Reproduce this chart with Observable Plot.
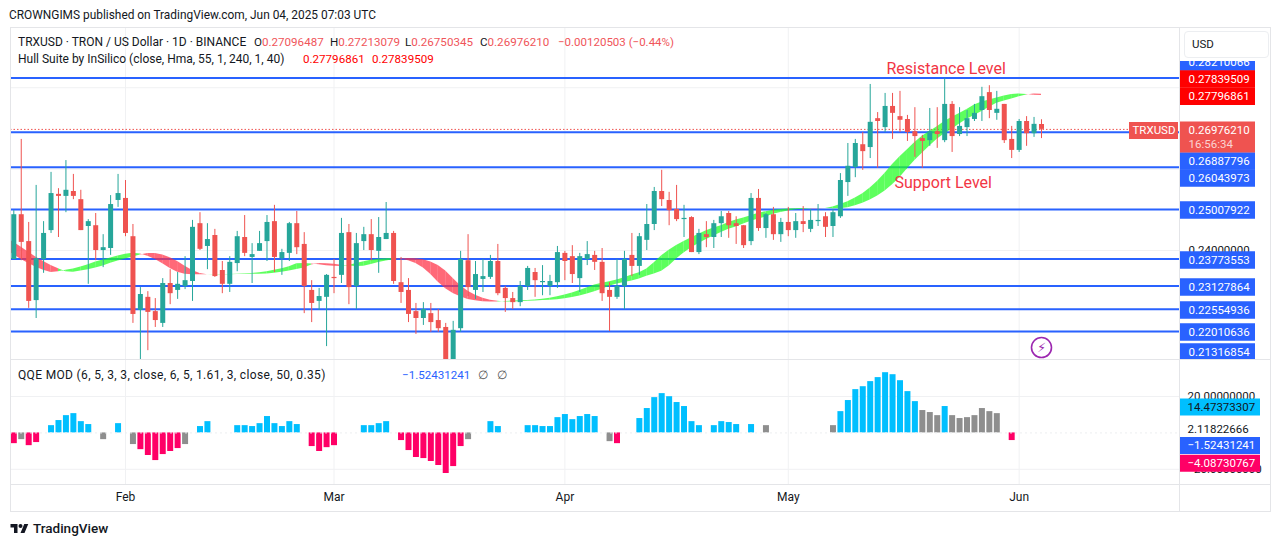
<!DOCTYPE html>
<html><head><meta charset="utf-8">
<script src="https://cdn.jsdelivr.net/npm/d3@7"></script>
<script src="https://cdn.jsdelivr.net/npm/@observablehq/plot@0.6"></script>
<style>
html,body{margin:0;padding:0;background:#fff;width:1281px;height:546px;overflow:hidden}
#page{position:relative;width:1281px;height:546px;font-family:Roboto,sans-serif;color:#131722;font-size:12px}
#page svg{position:absolute;left:0;background:transparent;max-width:none}
.t{position:absolute;white-space:nowrap;line-height:14px}
.r{color:#f0555a}
.line{position:absolute;background:#e4e5e8}
</style></head><body><div id="page"></div>
<script>
const barOpen=[.2378,.2488,.2422,.2277,.2378,.2449,.2538,.2533,.2545,.2525,.2459,.2461,.2400,.2405,.2523,.2528,.2434,.2253,.2285,.2250,.2221,.2319,.2302,.2312,.2324,.2466,.2410,.2437,.2351,.2317,.2368,.2432,.2383,.2398,.2422,.2471,.2380,.2393,.2466,.2415,.2302,.2275,.2285,.2334,.2339,.2444,.2312,.2422,.2439,.2398,.2427,.2442,.2321,.2302,.2250,.2233,.2245,.2228,.2211,.2125,.2208,.2375,.2302,.2329,.2334,.2373,.2307,.2282,.2272,.2312,.2346,.2321,.2312,.2321,.2393,.2385,.2331,.2378,.2388,.2371,.2302,.2285,.2312,.2388,.2361,.2425,.2464,.2545,.2523,.2501,.2476,.2481,.2395,.2439,.2432,.2466,.2491,.2466,.2461,.2422,.2528,.2454,.2488,.2439,.2469,.2449,.2471,.2452,.2471,.2483,.2459,.2483,.2567,.2604,.2660,.2653,.2724,.2702,.2754,.2729,.2722,.2692,.2675,.2670,.2692,.2670,.2759,.2685,.2702,.2722,.2744,.2788,.2737,.2759,.2673,.2646,.2717,.2687,.27096487];
const barClose=[.2488,.2420,.2275,.2380,.2442,.2540,.2533,.2548,.2533,.2449,.2471,.2400,.2407,.2513,.2540,.2442,.2243,.2292,.2248,.2228,.2319,.2294,.2317,.2326,.2457,.2403,.2427,.2336,.2317,.2371,.2434,.2393,.2390,.2417,.2469,.2383,.2395,.2466,.2407,.2312,.2270,.2287,.2339,.2331,.2442,.2309,.2417,.2439,.2400,.2432,.2442,.2324,.2297,.2243,.2233,.2255,.2223,.2208,.2118,.2204,.2378,.2309,.2341,.2336,.2373,.2294,.2282,.2272,.2312,.2356,.2326,.2324,.2324,.2395,.2373,.2341,.2385,.2390,.2371,.2294,.2285,.2312,.2378,.2361,.2434,.2464,.2545,.2525,.2498,.2476,.2479,.2395,.2442,.2432,.2466,.2483,.2461,.2459,.2412,.2528,.2454,.2488,.2439,.2469,.2449,.2471,.2464,.2474,.2474,.2457,.2493,.2572,.2607,.2663,.2643,.2715,.2717,.2754,.2737,.2720,.2690,.2680,.2668,.2692,.2685,.2759,.2680,.2705,.2724,.2737,.2778,.2744,.2747,.2670,.2646,.2717,.2687,.2710,.26976210];
const barHigh=[.2498,.2673,.2469,.2560,.2471,.2592,.2552,.2621,.2587,.2548,.2476,.2491,.2439,.2535,.2587,.2572,.2464,.2309,.2299,.2282,.2331,.2353,.2346,.2385,.2474,.2493,.2466,.2452,.2373,.2385,.2447,.2486,.2417,.2447,.2486,.2511,.2403,.2469,.2496,.2444,.2326,.2307,.2341,.2378,.2479,.2464,.2442,.2457,.2476,.2481,.2518,.2447,.2383,.2331,.2270,.2272,.2270,.2255,.2221,.2226,.2398,.2439,.2373,.2378,.2388,.2415,.2312,.2297,.2324,.2361,.2356,.2363,.2339,.2410,.2398,.2412,.2393,.2422,.2398,.2405,.2321,.2378,.2398,.2442,.2442,.2513,.2555,.2597,.2543,.2560,.2511,.2483,.2452,.2471,.2474,.2496,.2496,.2483,.2461,.2540,.2550,.2491,.2506,.2479,.2506,.2491,.2508,.2501,.2513,.2493,.2501,.2589,.2663,.2673,.2690,.2808,.2739,.2786,.2786,.2791,.2732,.2751,.2683,.2749,.2751,.2823,.2766,.2751,.2744,.2759,.2801,.2805,.2791,.2759,.2705,.2722,.2729,.2727,.27213079];
const barLow=[.2378,.2375,.2258,.2233,.2344,.2442,.2432,.2493,.2525,.2449,.2317,.2375,.2358,.2388,.2506,.2434,.2221,.2132,.2154,.2211,.2211,.2267,.2280,.2304,.2275,.2400,.2353,.2334,.2294,.2297,.2348,.2385,.2319,.2398,.2373,.2346,.2339,.2373,.2390,.2245,.2223,.2253,.2164,.2294,.2319,.2267,.2255,.2400,.2375,.2344,.2427,.2317,.2270,.2223,.2194,.2216,.2199,.2199,.2105,.2110,.2199,.2287,.2280,.2297,.2329,.2289,.2248,.2255,.2262,.2302,.2285,.2289,.2289,.2307,.2326,.2319,.2297,.2363,.2351,.2275,.2201,.2280,.2255,.2336,.2339,.2400,.2449,.2508,.2461,.2471,.2432,.2395,.2390,.2407,.2405,.2432,.2430,.2415,.2405,.2412,.2447,.2430,.2425,.2420,.2434,.2430,.2444,.2444,.2459,.2432,.2432,.2479,.2533,.2579,.2597,.2626,.2602,.2690,.2673,.2690,.2668,.2629,.2602,.2656,.2651,.2665,.2641,.2680,.2680,.2717,.2717,.2724,.2720,.2663,.2626,.2641,.2656,.2678,.26750345];
// Hull ribbon centre, one reading per bar, from two bars before the first bar to one bar after the last
const hullMid=[.24295,.24173,.24050,.23927,.23804,.23706,.23607,.23534,.23460,.23472,.23509,.23534,.23583,.23632,.23706,.23755,.23804,.23853,.23902,.23939,.23927,.23878,.23804,.23706,.23583,.23484,.23423,.23403,.23406,.23407,.23408,.23411,.23413,.23416,.23421,.23428,.23448,.23472,.23509,.23541,.23583,.23669,.23688,.23674,.23656,.23632,.23620,.23607,.23620,.23669,.23718,.23755,.23779,.23797,.23804,.23794,.23767,.23706,.23607,.23460,.23263,.23092,.22969,.22882,.22809,.22772,.22748,.22735,.22735,.22748,.22755,.22765,.22772,.22784,.22797,.22821,.22851,.22895,.22944,.23006,.23067,.23140,.23190,.23226,.23263,.23312,.23386,.23435,.23509,.23656,.23841,.23976,.24099,.24197,.24295,.24381,.24467,.24541,.24590,.24676,.24738,.24787,.24836,.24910,.24946,.24983,.25008,.25020,.25028,.25032,.25037,.25027,.25027,.25057,.25118,.25180,.25266,.25364,.25499,.25659,.25843,.26064,.26261,.26433,.26617,.26777,.26900,.27010,.27145,.27256,.27342,.27440,.27551,.27637,.27686,.27735,.27789,.27828,.27851,.27838,.27821,.27809];
// QQE histogram, one per bar; null = no column
const qqeValue=[-5.9,-3.7,-7,-5.3,null,4,6.8,9.5,10.6,6.2,4.6,null,-3.7,null,5.1,null,-6.4,-9.2,-12.4,-15.2,-11.9,-10.2,-8.6,-6.4,null,3.5,6.2,null,null,null,4,4,3.5,5.1,9,5.1,3.5,6.2,4.6,null,-7.5,-10.2,-8.1,-7,null,null,null,4,4,5.1,6.2,null,-4.2,-9.7,-13.5,-14.1,-15.7,-17.9,-22.3,-18.5,-7.5,-3.7,null,null,6.2,3.5,null,null,null,4,4,3.5,3.5,8.4,10.1,7.3,9,10.1,9,null,-4.8,-5.9,null,null,7.9,13.4,19.4,21.6,19.9,16.7,14.5,6.2,4,null,4,6.2,5.7,4.6,null,4.6,null,4,null,null,null,null,null,null,null,null,4,11.7,17.8,23.8,25.4,28.2,30.4,33.1,32,28.7,22.7,17.2,12.3,11.2,9.5,14.5,9.5,7.9,8.4,9.5,13.4,11.7,10.6,null,-4.2,null,null,null,null];
const qqeGrayBars=[1,12,16,23,61,80,101,110,122,123,124,126,127,128,129,130,131,132];
const levelLines=[.28210066,.26887796,.26043973,.25007922,.23773553,.23127864,.22554936,.22010636];
const levelNudge=[-1.2,-0.8,0,0,-0.8,0,0,0];
const lastClose=.2697621;
const monthBars=[15,43,74,104,135];
const monthLabels=["Feb","Mar","Apr","May","Jun"];
const priceGrid=[.28,.26,.24,.22];
const qqeGrid=[20,-20];
const annotations=[{text:"Resistance Level",bar:125.2,price:.2847},{text:"Support Level",bar:124.8,price:.2567}];
// price-axis tags: value, face colour, shift from the true level where TradingView stacks them
const tagValues=[.28210066,.27839509,.27796861,.26887796,.26043973,.25007922,.23773553,.23127864,.22554936,.22010636,.21316854];
const tagFills=["#2962ff","#ff0000","#ff0000","#2962ff","#2962ff","#2962ff","#2962ff","#2962ff","#2962ff","#2962ff","#2962ff"];
const tagShifts=[-17.2,-15.3,0.2,28,10.7,0.5,0.3,1,0.7,0.5,-7.7];
const qqeTagValues=[14.47373307,-1.52431241,-4.08730767];
const qqeTagLabels=["14.47373307","−1.52431241","−4.08730767"];
const qqeTagFills=["#00bfff","#2962ff","#ff0066"];
const qqeTagInk=["#131722","#fff","#fff"];
const qqeTagShifts=[0.4,9.8,22.9];

const pitch=7.447, x0=13.3, axisFont=11.5;
const xAt=px=>(px-x0)/pitch;
const xScale={type:"linear",domain:[xAt(10),xAt(1179)],axis:null};
const font="Roboto, sans-serif";
const up="#26a69a",down="#ef5350";
const bars=barOpen.map((o,i)=>({i,open:o,close:barClose[i],high:barHigh[i],low:barLow[i],c:barClose[i]>=o?up:down}));
const mid=b=>hullMid[Math.max(0,Math.min(hullMid.length-1,b+2))];
const fast=t=>.75*mid(t+1)+.25*mid(t+2);
const slow=t=>.75*mid(t-1)+.25*mid(t-2);
const ribbon=[];
for(let t=-1;t<138;t++){
  const c=fast(t+1)>=slow(t+1)?"#1fff1f":"#ff2f44";
  ribbon.push({seg:t,x:t,m:fast(t),s:slow(t),c},{seg:t,x:t+1,m:fast(t+1),s:slow(t+1),c});
}
const tagLeft=xAt(1180),tagRight=xAt(1255),tagRightWide=xAt(1260);
const priceTags=tagValues.flatMap((v,i)=>[
  Plot.ruleY([v],{x1:tagLeft,x2:tagRight,stroke:tagFills[i],strokeWidth:17.6,dy:tagShifts[i]}),
  Plot.text([v],{y:d=>d,text:d=>d.toFixed(8),frameAnchor:"right",dx:9,dy:tagShifts[i],textAnchor:"start",fill:"#fff",fontSize:axisFont})
]);
const price=Plot.plot({
  width:1281,height:360,marginTop:28,marginBottom:1,marginLeft:10,marginRight:102,
  x:xScale,y:{domain:[.21323,.29455],axis:null},color:{type:"identity"},
  style:{fontFamily:font,background:"transparent"},
  marks:[
    Plot.ruleY(priceGrid,{stroke:"#f0f1f3"}),
    Plot.ruleX(monthBars,{stroke:"#f0f1f3"}),
    ...levelLines.map((v,i)=>Plot.ruleY([v],{stroke:"#2962ff",strokeWidth:2,dy:levelNudge[i]})),
    Plot.ruleY([lastClose],{stroke:"#ef5350",strokeDasharray:"1.5,2"}),
    Plot.areaY(ribbon,{x:"x",y1:"s",y2:"m",z:"seg",fill:"c",fillOpacity:.72,clip:true}),
    Plot.ruleX(bars,{x:"i",y1:"low",y2:"high",stroke:"c",strokeWidth:1,clip:true}),
    Plot.ruleX(bars,{x:"i",y1:"open",y2:"close",stroke:"c",strokeWidth:5,clip:true}),
    Plot.text(annotations,{x:"bar",y:"price",text:"text",fill:"#f23645",fontSize:16,style:"letter-spacing:.4px"}),
    Plot.dot([{bar:138,price:.21617}],{x:"bar",y:"price",r:10,stroke:"#9c27b0",strokeWidth:1.6,fill:"#fff"}),
    Plot.text([{bar:138,price:.21617}],{x:"bar",y:"price",text:()=>"⚡",fill:"#9c27b0",fontSize:13,fontFamily:"DejaVu Sans"}),
    Plot.text([.24],{y:d=>d,text:d=>d.toFixed(8),frameAnchor:"right",dx:9,textAnchor:"start",fill:"#131722",fontSize:axisFont}),
    ...priceTags,
    Plot.ruleY([lastClose],{x1:tagLeft,x2:tagRight,stroke:"#ef5350",strokeWidth:31,dy:7.6}),
    Plot.text([lastClose],{y:d=>d,text:d=>d.toFixed(8),frameAnchor:"right",dx:9,dy:1,textAnchor:"start",fill:"#fff",fontSize:axisFont}),
    Plot.text([lastClose],{y:d=>d,text:()=>"16:56:34",frameAnchor:"right",dx:9,dy:15,textAnchor:"start",fill:"#fbd3d3",fontSize:axisFont}),
    Plot.ruleY([lastClose],{x1:xAt(1129),x2:xAt(1178),stroke:"#ef5350",strokeWidth:17,dy:1}),
    Plot.text([lastClose],{x:xAt(1153.5),y:d=>d,text:()=>"TRXUSD",dy:1,fill:"#fff",fontSize:11.5})
  ]
});
price.style.top="0px";

const qqe=qqeValue.map((v,i)=>({i,v,c:qqeGrayBars.includes(i)?"#8e8e8e":(v>0?"#00bfff":"#ff0066")})).filter(d=>d.v!==null);
const qqeTags=qqeTagValues.flatMap((v,i)=>[
  Plot.ruleY([v],{x1:tagLeft,x2:tagRightWide,stroke:qqeTagFills[i],strokeWidth:17,dy:qqeTagShifts[i]}),
  Plot.text([v],{y:d=>d,text:()=>qqeTagLabels[i],frameAnchor:"right",dx:8,dy:qqeTagShifts[i],textAnchor:"start",fill:qqeTagInk[i],fontSize:axisFont})
]);
const lower=Plot.plot({
  width:1281,height:151,marginTop:0,marginBottom:27,marginLeft:10,marginRight:102,
  x:xScale,y:{domain:[-28.35,39.8],axis:null},color:{type:"identity"},
  style:{fontFamily:font,background:"transparent"},
  marks:[
    Plot.ruleY(qqeGrid,{stroke:"#f0f1f3"}),
    Plot.ruleX(monthBars,{stroke:"#f0f1f3"}),
    Plot.ruleX(qqe,{x:"i",y1:0,y2:"v",stroke:"c",strokeWidth:6}),
    Plot.ruleY([0],{stroke:"#eceef0",strokeDasharray:"2,3"}),
    Plot.axisX({ticks:monthBars,tickFormat:d=>monthLabels[monthBars.indexOf(d)],tickSize:0,tickPadding:8,fontSize:12,color:"#131722",label:null}),
    Plot.text([20,-20],{y:d=>d,text:d=>(d<0?"−":"")+Math.abs(d).toFixed(8),frameAnchor:"right",dx:8,textAnchor:"start",fill:"#131722",fontSize:axisFont}),
    Plot.text([2.11822666],{y:d=>d,text:d=>d.toFixed(8),frameAnchor:"right",dx:8,textAnchor:"start",fill:"#131722",fontSize:axisFont}),
    ...qqeTags
  ]
});
lower.style.top="360px";

const page=document.getElementById("page");
page.append(price,lower);
const add=(html)=>page.insertAdjacentHTML("beforeend",html);
const text=(x,y,s,cls="",extra="")=>add(`<div class="t ${cls}" style="left:${x}px;top:${y-7}px;${extra}">${s}</div>`);
// frame
[[10,27,1261,1],[10,511,1261,1],[10,27,1,485],[1270,27,1,485],[1179,27,1,485],[10,359,1260,1],[10,484,1260,1]]
  .forEach(([l,t,w,h])=>add(`<div class="line" style="left:${l}px;top:${t}px;width:${w}px;height:${h}px"></div>`));
add(`<div style="position:absolute;left:1180px;top:28px;width:90px;height:33px;background:#fff"></div>`);
add(`<div style="position:absolute;left:1184px;top:31px;width:83px;height:25px;border:1px solid #eceef1;border-radius:4px;background:#fff"></div>`);
text(1192,44,"USD","","font-size:11.5px");
text(9,15,"CROWNGIMS published on TradingView.com, Jun 04, 2025 07:03 UTC","","font-size:11.9px");
text(18,42,"TRXUSD · TRON / US Dollar · 1D · BINANCE");
const v="font-size:11.6px";
text(254,42,'O<span class="r">0.27096487</span>',"",v);
text(330,42,'H<span class="r">0.27213079</span>',"",v);
text(405,42,'L<span class="r">0.26750345</span>',"",v);
text(480,42,'C<span class="r">0.26976210</span>',"",v);
text(558,42,'−0.00120503 (−0.44%)',"r","font-size:11.5px");
text(18,59,"Hull Suite by InSilico (close, Hma, 55, 1, 240, 1, 40)");
text(303,59,"0.27796861","","color:#ff0000;"+v);
text(372,59,"0.27839509","","color:#ff0000;"+v);
text(18,375,"QQE MOD (6, 5, 3, 3, close, 6, 5, 1.61, 3, close, 50, 0.35)","","letter-spacing:.34px");
text(402,375,"−1.52431241","","color:#2962ff;"+v);
text(478,375,"∅","","color:#555");
text(497,375,"∅","","color:#555");
add(`<svg style="left:10px;top:522px" width="19" height="12" viewBox="0 0 36 24"><path d="M14 22H7V11H0V4h14v18zM28 22h-8l7.5-18h8L28 22z" fill="#131722"/><circle cx="20" cy="8" r="4" fill="#131722"/></svg>`);
text(33,528,"TradingView","","font-size:13.5px;font-weight:500");
</script></body></html>
